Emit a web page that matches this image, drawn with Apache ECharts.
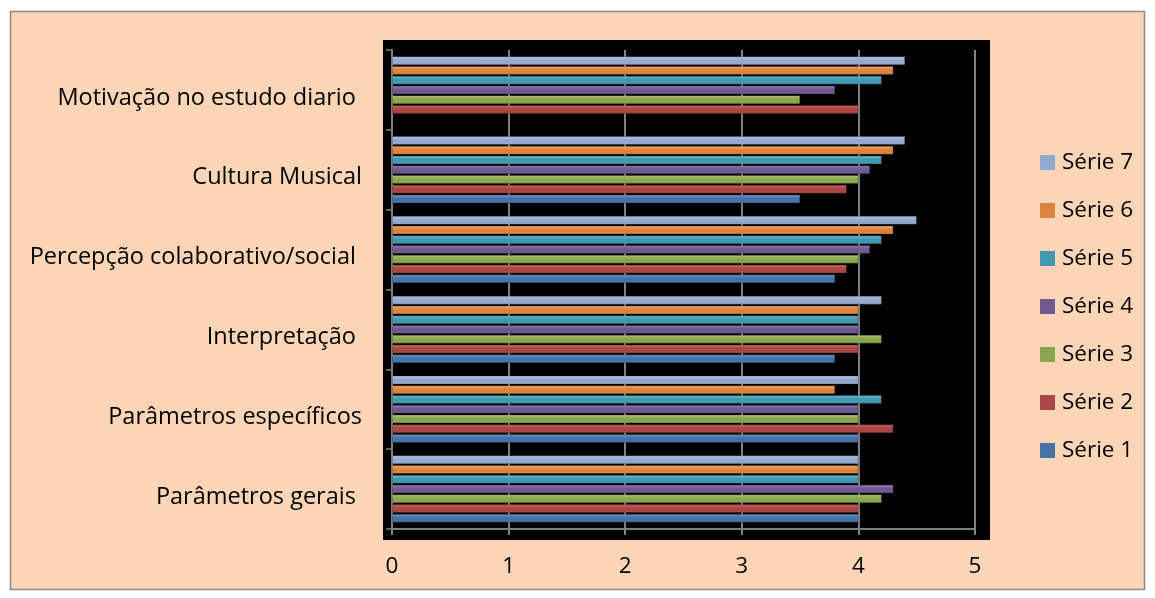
<!DOCTYPE html>
<html><head><meta charset="utf-8">
<script src="https://cdn.jsdelivr.net/npm/echarts@6/dist/echarts.min.js"></script>
<style>html,body{margin:0;padding:0;background:#fff}#c{width:1155px;height:598px}</style>
</head><body><div id="c"></div>
<script>
const categories = ['Parâmetros gerais ', 'Parâmetros específicos', 'Interpretação ', 'Percepção colaborativo/social ', 'Cultura Musical', 'Motivação no estudo diario '];
const seriesNames = ['Série 1', 'Série 2', 'Série 3', 'Série 4', 'Série 5', 'Série 6', 'Série 7'];
const serie1 = [4.0, 4.0, 3.8, 3.8, 3.5, null];
const serie2 = [4.0, 4.3, 4.0, 3.9, 3.9, 4.0];
const serie3 = [4.2, 4.0, 4.2, 4.0, 4.0, 3.5];
const serie4 = [4.3, 4.0, 4.0, 4.1, 4.1, 3.8];
const serie5 = [4.0, 4.2, 4.0, 4.2, 4.2, 4.2];
const serie6 = [4.0, 3.8, 4.0, 4.3, 4.3, 4.3];
const serie7 = [4.0, 4.0, 4.2, 4.5, 4.4, 4.4];
const xTicks = [0, 1, 2, 3, 4, 5];

const values = [serie1, serie2, serie3, serie4, serie5, serie6, serie7];
const baseColors = ['#4572A7', '#AA4643', '#89A54E', '#71588F', '#4198AF', '#DB843D', '#93A9CF'];
const lightColors = ['#6E97C8', '#CD6562', '#AECB74', '#9479B5', '#67BBD2', '#F9A562', '#B5C9E8'];
const font = '"Open Sans", Lato, sans-serif';
const fs = 22.5;

// series drawn top-to-bottom in ECharts horizontal bars, so feed Série 7 first
const order = [6, 5, 4, 3, 2, 1, 0];

const chart = echarts.init(document.getElementById('c'));
chart.setOption({
  backgroundColor: '#fff',
  animation: false,
  graphic: [
    { type: 'rect', z: -10, shape: { x: 10.5, y: 11.5, width: 1134, height: 578 }, style: { fill: '#FBD5B5', stroke: '#8C8C8C', lineWidth: 1.5 } },
    { type: 'rect', z: -9, shape: { x: 383, y: 40, width: 607, height: 500 }, style: { fill: '#000' } }
  ],
  grid: { left: 392, right: 180, top: 50, bottom: 69 },
  legend: {
    orient: 'vertical', left: 1035, top: 146, itemGap: 25, itemWidth: 15, itemHeight: 15,
    icon: 'rect',
    data: order.map(i => ({ name: seriesNames[i], itemStyle: { color: baseColors[i], borderWidth: 0 } })),
    textStyle: { fontFamily: font, fontSize: fs, color: '#000', padding: [0, 0, 0, 2] }
  },
  xAxis: {
    type: 'value', min: xTicks[0], max: xTicks[xTicks.length - 1], interval: 1,
    axisLine: { show: true, lineStyle: { color: '#808080', width: 2 } },
    axisTick: { show: true, length: 6, lineStyle: { color: '#808080', width: 2 } },
    splitLine: { show: true, lineStyle: { color: '#808080', width: 2 } },
    axisLabel: { margin: 26, fontFamily: font, fontSize: fs, color: '#000' }
  },
  yAxis: {
    type: 'category', data: categories,
    axisLine: { show: true, lineStyle: { color: '#808080', width: 2 } },
    axisTick: { show: true, length: 6, lineStyle: { color: '#808080', width: 1.5 } },
    axisLabel: { margin: 30, fontFamily: font, fontSize: 23.5, color: '#000', verticalAlign: 'top', lineHeight: 16 }
  },
  series: order.map(i => ({
    name: seriesNames[i], type: 'bar', data: values[i],
    barCategoryGap: '16%', barGap: '14%',
    itemStyle: {
      color: new echarts.graphic.LinearGradient(0, 0, 0, 1, [
        { offset: 0, color: lightColors[i] },
        { offset: 0.45, color: baseColors[i] },
        { offset: 1, color: baseColors[i] }
      ]),
      borderColor: 'rgba(0,0,0,0.35)', borderWidth: 0.6
    }
  }))
});
</script></body></html>
